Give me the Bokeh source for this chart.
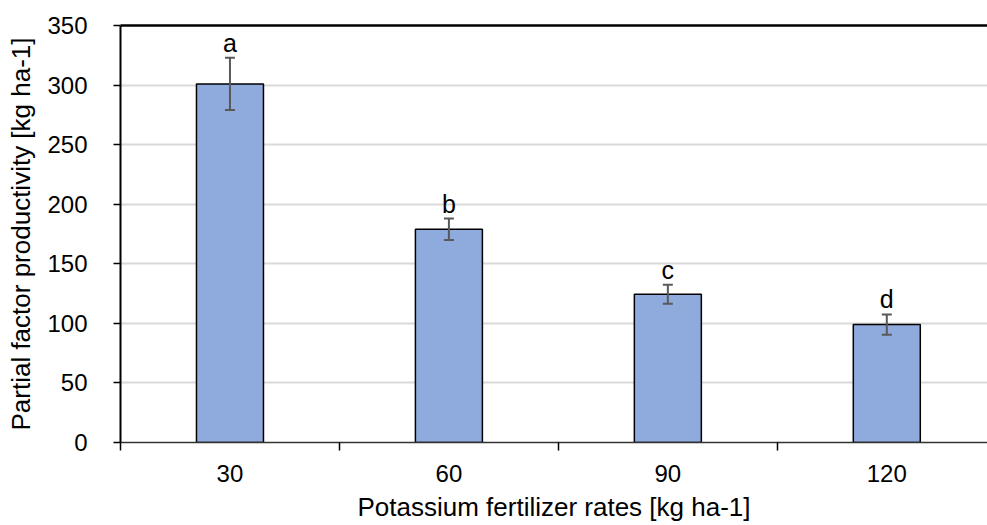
from bokeh.plotting import figure
from bokeh.models import (ColumnDataSource, FixedTicker, LinearAxis, Whisker,
                          LabelSet, Range1d)
from bokeh.core.properties import value
from bokeh.embed import file_html
from bokeh.resources import INLINE

categories = ["30", "60", "90", "120"]
values = [301, 179, 124.5, 99]
errors = [22, 9, 8, 8.5]
letters = ["a", "b", "c", "d"]

FONT = "Liberation Sans"

xs = [i + 0.5 for i in range(len(categories))]
src = ColumnDataSource(dict(
    x=xs, top=values,
    lower=[v - e for v, e in zip(values, errors)],
    upper=[v + e for v, e in zip(values, errors)],
    letter=letters,
))

p = figure(width=987, height=525, output_backend="svg", toolbar_location=None,
           x_range=Range1d(0, 3.96), y_range=Range1d(0, 350),
           min_border_left=120, min_border_right=0, min_border_top=25,
           min_border_bottom=83)
p.outline_line_color = None
p.background_fill_color = "white"
p.border_fill_color = "white"

p.vbar(x="x", top="top", width=0.306, bottom=0, source=src,
       fill_color="#8faadc", line_color="black", line_width=1.5)

w = Whisker(base="x", lower="lower", upper="upper", source=src,
            line_color="#595959", line_width=2, level="overlay")
for h in (w.upper_head, w.lower_head):
    h.size = 10
    h.line_color = "#595959"
    h.line_width = 2
p.add_layout(w)

labels = LabelSet(x="x", y="upper", text="letter", source=src,
                  text_align="center", text_baseline="bottom", y_offset=1,
                  text_font=value(FONT), text_font_size="25px", text_color="black")
p.add_layout(labels)

# x axis
xa = p.xaxis[0]
xa.ticker = FixedTicker(ticks=xs, minor_ticks=list(range(len(categories) + 1)))
xa.major_label_overrides = {x: c for x, c in zip(xs, categories)}
xa.major_tick_line_color = None
xa.major_tick_out = 0
xa.major_tick_in = 0
xa.minor_tick_line_color = "black"
xa.minor_tick_line_width = 1.5
xa.minor_tick_out = 8
xa.minor_tick_in = 0
xa.axis_line_color = "#333333"
xa.axis_line_width = 1.5
xa.major_label_standoff = 14
xa.major_label_text_font = FONT
xa.major_label_text_font_size = "24px"
xa.major_label_text_color = "black"
xa.axis_label = "Potassium fertilizer rates [kg ha-1]"
xa.axis_label_text_font = FONT
xa.axis_label_text_font_size = "26px"
xa.axis_label_text_font_style = "normal"
xa.axis_label_text_color = "black"
xa.axis_label_standoff = 7

# y axis
ya = p.yaxis[0]
ya.ticker = FixedTicker(ticks=list(range(0, 351, 50)))
ya.minor_tick_line_color = None
ya.major_tick_out = 7
ya.major_tick_in = 0
ya.major_tick_line_color = "black"
ya.major_tick_line_width = 1.5
ya.axis_line_color = "black"
ya.axis_line_width = 2
ya.major_label_standoff = 26
ya.major_label_text_font = FONT
ya.major_label_text_font_size = "24px"
ya.major_label_text_color = "black"
ya.axis_label = "Partial factor productivity [kg ha-1]"
ya.axis_label_text_font = FONT
ya.axis_label_text_font_size = "26px"
ya.axis_label_text_font_style = "normal"
ya.axis_label_text_color = "black"
ya.axis_label_standoff = 8

# top border line
top = LinearAxis(ticker=FixedTicker(ticks=[]), major_label_text_font_size="0px",
                 axis_line_color="black", axis_line_width=2.5,
                 major_tick_line_color=None, minor_tick_line_color=None)
p.add_layout(top, "above")

p.xgrid.grid_line_color = None
p.ygrid.ticker = FixedTicker(ticks=list(range(50, 350, 50)))
p.ygrid.grid_line_color = "#d9d9d9"
p.ygrid.grid_line_width = 2

open("out.html", "w").write(file_html(p, INLINE))
